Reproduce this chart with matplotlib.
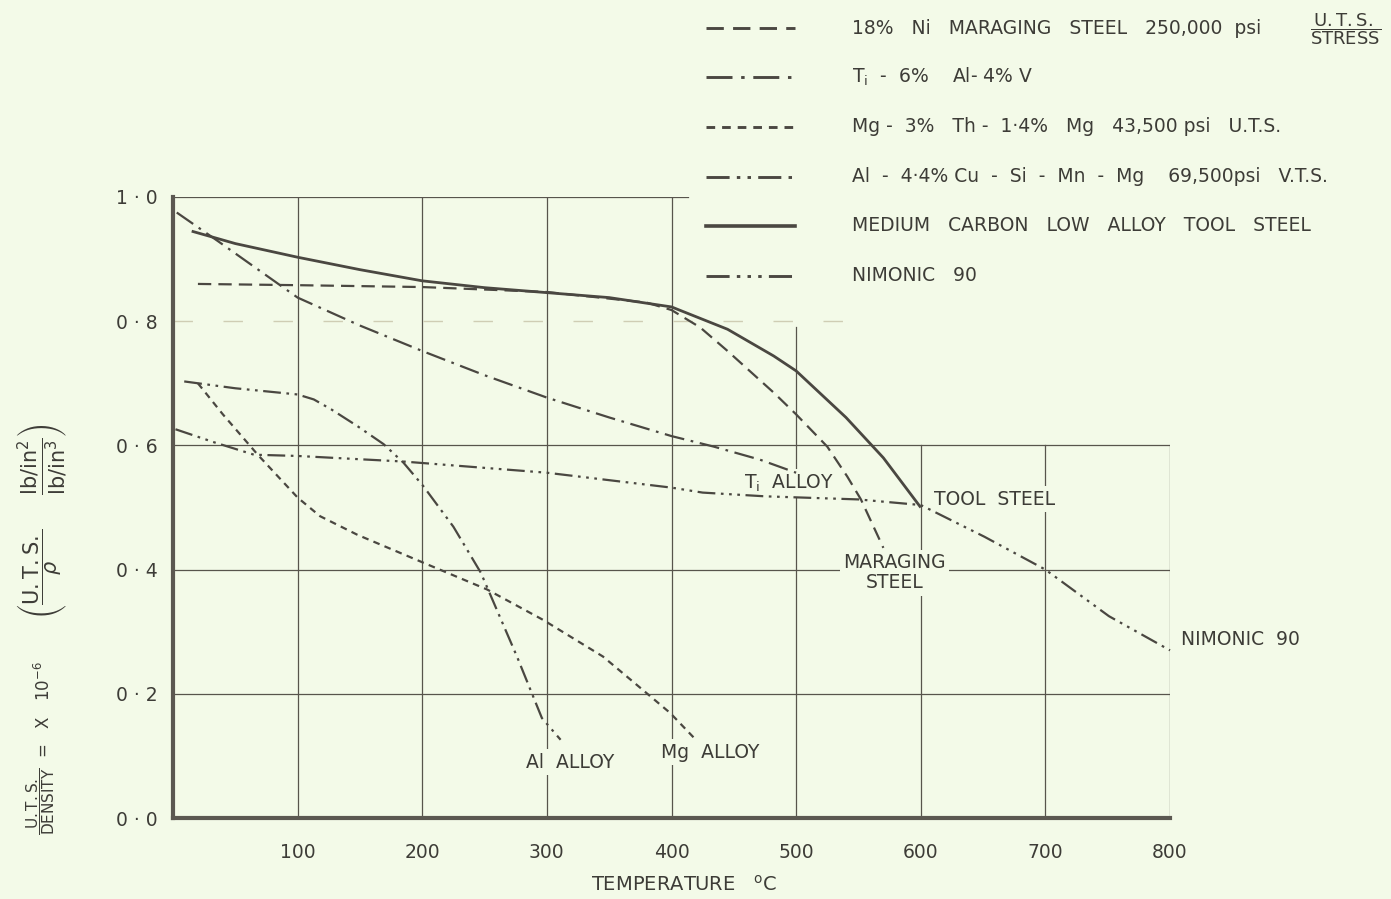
import matplotlib
matplotlib.use("Agg")
import matplotlib.pyplot as plt
from matplotlib.lines import Line2D

# ---------------- data ----------------
tool_temp = [15, 50, 100, 150, 200, 250, 300, 350, 400, 445, 482, 500, 540, 570, 600]
tool_val = [0.945, 0.925, 0.903, 0.883, 0.865, 0.854, 0.846, 0.838, 0.823, 0.787, 0.744, 0.72, 0.645, 0.58, 0.50]

mar_temp = [20, 100, 200, 300, 380, 400, 423, 445, 482, 500, 525, 541, 552, 570]
mar_val = [0.86, 0.858, 0.855, 0.847, 0.83, 0.818, 0.79, 0.752, 0.685, 0.65, 0.598, 0.55, 0.513, 0.435]

ti_temp = [3, 36, 100, 150, 200, 250, 300, 350, 400, 434, 471, 500]
ti_val = [0.975, 0.929, 0.838, 0.793, 0.752, 0.713, 0.677, 0.645, 0.615, 0.598, 0.577, 0.556]

mg_temp = [20, 40, 68, 100, 118, 148, 201, 252, 297, 345, 370, 399, 420]
mg_val = [0.70, 0.65, 0.585, 0.516, 0.486, 0.456, 0.411, 0.368, 0.319, 0.26, 0.218, 0.169, 0.125]

al_temp = [9, 50, 100, 113, 127, 148, 169, 185, 201, 225, 247, 276, 296, 311]
al_val = [0.703, 0.692, 0.682, 0.674, 0.658, 0.631, 0.602, 0.572, 0.534, 0.469, 0.395, 0.26, 0.161, 0.126]

nim_temp = [2, 33, 65, 100, 185, 300, 400, 425, 475, 550, 600, 651, 700, 751, 800]
nim_val = [0.626, 0.605, 0.585, 0.583, 0.574, 0.556, 0.532, 0.524, 0.518, 0.513, 0.504, 0.453, 0.40, 0.325, 0.27]

legend_labels = [
    "18%   Ni   MARAGING   STEEL   250,000  psi",
    r"T$_{\mathregular{i}}$  -  6%    Al- 4% V",
    "Mg -  3%   Th -  1·4%   Mg   43,500 psi   U.T.S.",
    "Al  -  4·4% Cu  -  Si  -  Mn  -  Mg    69,500psi   V.T.S.",
    "MEDIUM   CARBON   LOW   ALLOY   TOOL   STEEL",
    "NIMONIC   90",
]
x_ticks = [100, 200, 300, 400, 500, 600, 700, 800]
x_ticklabels = ["100", "200", "300", "400", "500", "600", "700", "800"]
y_ticks = [0.0, 0.2, 0.4, 0.6, 0.8, 1.0]
y_ticklabels = ["0 · 0", "0 · 2", "0 · 4", "0 · 6", "0 · 8", "1 · 0"]

# ---------------- styling ----------------
W, H = 1391, 899
BG = "#f3fae8"
INK = "#4a4741"
TXT = "#3d3c37"
GRID = "#57544c"

plt.rcParams["font.family"] = ["DejaVu Sans"]
plt.rcParams["mathtext.fontset"] = "dejavusans"

styles = [
    dict(color=INK, lw=1.6, linestyle=(0, (6, 3.2))),                       # maraging
    dict(color=INK, lw=1.6, linestyle=(0, (9, 3, 1.2, 3))),                # Ti
    dict(color=INK, lw=1.6, linestyle=(0, (3, 2.4))),                      # Mg
    dict(color=INK, lw=1.6, linestyle=(0, (8, 2.5, 1.2, 2.5, 1.2, 2.5))),  # Al
    dict(color=INK, lw=2.0, linestyle="-"),                                # tool steel
    dict(color=INK, lw=1.6, linestyle=(0, (8, 2.5, 1.2, 2.5, 1.2, 2.5, 1.2, 2.5))),  # Nimonic
]
series = [
    (mar_temp, mar_val),
    (ti_temp, ti_val),
    (mg_temp, mg_val),
    (al_temp, al_val),
    (tool_temp, tool_val),
    (nim_temp, nim_val),
]

fig = plt.figure(figsize=(W / 100, H / 100), dpi=100, facecolor=BG)
ax = fig.add_axes([173 / W, 1 - 818 / H, (1170 - 173) / W, (818 - 197) / H])
ax.set_facecolor(BG)
ax.set_xlim(0, 800)
ax.set_ylim(0, 1.0)

# partial hand-drawn style grid
gkw = dict(color=GRID, lw=0.9, zorder=1)
for xv in [100, 200, 300, 400]:
    ax.plot([xv, xv], [0, 1.0], **gkw)
ax.plot([500, 500], [0, 0.79], **gkw)
for xv in [600, 700, 800]:
    ax.plot([xv, xv], [0, 0.6], **gkw)
ax.plot([0, 413], [1.0, 1.0], **gkw)
for yv in [0.2, 0.4, 0.6]:
    ax.plot([0, 800], [yv, yv], **gkw)
ax.plot([0, 560], [0.8, 0.8], color="#cfcdb4", lw=1.0, linestyle=(0, (14, 22)), zorder=1)

# curves
for (tx, vy), st in zip(series, styles):
    ax.plot(tx, vy, zorder=3, clip_on=False, solid_capstyle="butt", **st)

# spines / ticks
for s in ["top", "right"]:
    ax.spines[s].set_visible(False)
for s in ["left", "bottom"]:
    ax.spines[s].set_linewidth(3.0)
    ax.spines[s].set_color("#5b5851")
    ax.spines[s].set_zorder(4)
ax.set_xticks(x_ticks)
ax.set_xticklabels(x_ticklabels)
ax.set_yticks(y_ticks)
ax.set_yticklabels(y_ticklabels)
ax.tick_params(axis="both", length=0, labelsize=13.5, colors=TXT)
ax.tick_params(axis="x", pad=18)
ax.tick_params(axis="y", pad=11)

# in-plot labels (with background boxes to interrupt the grid)
box = dict(facecolor=BG, edgecolor="none", pad=2.5)
lab_kw = dict(fontsize=13.5, color=TXT, zorder=2, bbox=box)
ax.text(494, 0.539, r"T$_{\mathregular{i}}$  ALLOY", ha="center", va="center", **lab_kw)
ax.text(611, 0.513, "TOOL  STEEL", ha="left", va="center", **lab_kw)
ax.text(579, 0.411, "MARAGING", ha="center", va="center", **lab_kw)
ax.text(579, 0.379, "STEEL", ha="center", va="center", **lab_kw)
ax.text(809, 0.287, "NIMONIC  90", ha="left", va="center", **lab_kw)
ax.text(319, 0.09, "Al  ALLOY", ha="center", va="center", **lab_kw)
ax.text(431, 0.106, "Mg  ALLOY", ha="center", va="center", **lab_kw)

# axis titles
fig.text(684 / W, 1 - 885 / H, r"TEMPERATURE   $^{\mathregular{o}}$C", ha="center", va="center",
         fontsize=14, color=TXT)
ylab_kw = dict(rotation=90, ha="center", va="center", color=TXT)
fig.text(41 / W, 1 - 801 / H, r"$\dfrac{\mathrm{U.T.S.}}{\mathrm{DENSITY}}$", fontsize=11, **ylab_kw)
fig.text(44 / W, 1 - 710 / H, r"=   X   10$^{-6}$", fontsize=12, **ylab_kw)
fig.text(43 / W, 1 - 521 / H,
         r"$\left(\dfrac{\mathrm{U.T.S.}}{\rho}\ \ \ \ \ \dfrac{\mathrm{lb/in}^{2}}{\mathrm{lb/in}^{3}}\right)$",
         fontsize=15, **ylab_kw)

# legend (top right, drawn in figure coordinates)
legend_y = [28, 77, 127, 177, 226, 276]
for lab, st, yp in zip(legend_labels, styles, legend_y):
    yf = 1 - yp / H
    lst = dict(st)
    lst["lw"] = st["lw"] * 1.3
    fig.add_artist(Line2D([706 / W, 795 / W], [yf, yf], transform=fig.transFigure, **lst))
    fig.text(852 / W, yf, lab, ha="left", va="center", fontsize=13.5, color=TXT)
fig.text(1346 / W, 1 - 29 / H, r"$\dfrac{\mathrm{U.T.S.}}{\mathrm{STRESS}}$", ha="center", va="center",
         fontsize=13, color=TXT)

fig.savefig("out.png", dpi=100, facecolor=BG)
